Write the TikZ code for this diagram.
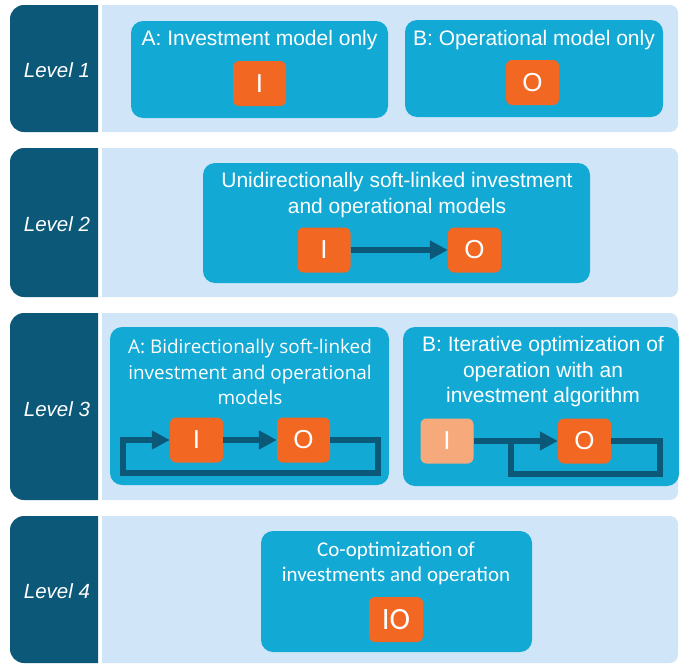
\documentclass[tikz,border=0pt]{standalone}
\usepackage{fontspec}
\setmainfont{Liberation Sans}
\newfontfamily\calfont{Carlito}
\newfontfamily\segfont{Open Sans}
\usetikzlibrary{arrows.meta}

\definecolor{navy}{RGB}{11,88,120}
\definecolor{panel}{RGB}{208,230,248}
\definecolor{modelcyan}{RGB}{18,169,212}
\definecolor{unitorange}{RGB}{242,103,34}
\definecolor{unitpeach}{RGB}{246,169,123}

\tikzset{
  lvltext/.style={text=white,font=\fontsize{20.5}{24}\selectfont\itshape},
  modelbox/.style={fill=modelcyan,rounded corners=12pt,inner sep=0pt},
  title/.style={text=white,align=center,font=\fontsize{21}{26}\selectfont},
  unit/.style={fill=unitorange,rounded corners=6pt,minimum width=53pt,minimum height=45pt,
    inner sep=0pt,text=white,font=\fontsize{26}{26}\selectfont},
  flow/.style={draw=navy,line width=5.5pt,line join=miter},
  feed/.style={-{Triangle[length=18pt,width=18pt]}}
}

\begin{document}
\begin{tikzpicture}[x=1pt,y=-1pt]
    \useasboundingbox (0,0) rectangle (680,664);
    % level bands
    \fill[navy] (54,5) [rounded corners=14pt] -- (10,5) -- (10,132) -- (54,132) [sharp corners] -- (98,132) -- (98,5) -- cycle;
    \fill[panel] (102,5) -- (390,5) [rounded corners=8pt] -- (678,5) -- (678,132) -- (390,132) [sharp corners] -- (102,132) -- cycle;
    \fill[navy] (54,148) [rounded corners=14pt] -- (10,148) -- (10,297) -- (54,297) [sharp corners] -- (98,297) -- (98,148) -- cycle;
    \fill[panel] (102,148) -- (390,148) [rounded corners=8pt] -- (678,148) -- (678,297) -- (390,297) [sharp corners] -- (102,297) -- cycle;
    \fill[navy] (54,313) [rounded corners=14pt] -- (10,313) -- (10,500) -- (54,500) [sharp corners] -- (98,500) -- (98,313) -- cycle;
    \fill[panel] (102,313) -- (390,313) [rounded corners=8pt] -- (678,313) -- (678,500) -- (390,500) [sharp corners] -- (102,500) -- cycle;
    \fill[navy] (54,516) [rounded corners=14pt] -- (10,516) -- (10,663) -- (54,663) [sharp corners] -- (98,663) -- (98,516) -- cycle;
    \fill[panel] (102,516) -- (390,516) [rounded corners=8pt] -- (678,516) -- (678,663) -- (390,663) [sharp corners] -- (102,663) -- cycle;
    \node[lvltext] (lvl1) at (57,70) {Level 1};
    \node[lvltext] (lvl2) at (57,224) {Level 2};
    \node[lvltext] (lvl3) at (57,409) {Level 3};
    \node[lvltext] (lvl4) at (57,591) {Level 4};
    %
    % level 1
    \node[modelbox,minimum width=257pt,minimum height=97pt] (m1a) at (259.5,69.5) {};
    \node[modelbox,minimum width=258pt,minimum height=97pt] (m1b) at (534,68.5) {};
    \node[title] (t1a) at (259.5,40) {A: Investment model only};
    \node[title] (t1b) at (534,40) {B: Operational model only};
    \node[unit] (i1) at (259.5,83.5) {I};
    \node[unit] (o1) at (532.5,82.5) {O};
    %
    % level 2
    \node[modelbox,minimum width=387pt,minimum height=120pt] (m2) at (396.5,223) {};
    \node[title] (t2) at (397,195) {Unidirectionally soft-linked investment\\and operational models};
    \node[unit] (i2) at (324,250) {I};
    \node[unit] (o2) at (474.5,250) {O};
    \draw[flow,feed] (i2) -- (o2);
    %
    % level 3
    \node[modelbox,minimum width=279pt,minimum height=158pt] (m3a) at (249.5,406) {};
    \node[modelbox,minimum width=276pt,minimum height=159pt] (m3b) at (541,406.5) {};
    \node[title,font=\segfont\fontsize{18.9}{25.5}\selectfont] (t3a) at (250,372) {A: Bidirectionally soft-linked\\investment and operational\\models};
    \node[title,font=\fontsize{21}{25.5}\selectfont] (t3b) at (543,372) {B: Iterative optimization of\\operation with an\\investment algorithm};
    \node[unit] (i3a) at (196.5,440) {I};
    \node[unit] (o3a) at (303.5,440) {O};
    \draw[flow,feed] (i3a) -- (o3a);
    \coordinate (a3r) at (378,473);
    \coordinate (a3l) at (123,473);
    \draw[flow,feed] (o3a.east) -| (a3r) -- (a3l) |- (i3a.west);
    \node[unit,fill=unitpeach] (i3b) at (447,441) {I};
    \node[unit] (o3b) at (584.5,441) {O};
    \draw[flow,feed] (i3b) -- (o3b);
    \coordinate (b3r) at (660,474);
    \coordinate (b3l) at (511,474);
    \draw[flow] (o3b.east) -| (b3r) -- (b3l) -- (b3l |- i3b.east);
    %
    % level 4
    \node[modelbox,minimum width=271pt,minimum height=121pt] (m4) at (396.5,591.5) {};
    \node[title,font=\calfont\fontsize{21}{25}\selectfont] (t4) at (396,563) {Co-optimization of\\investments and operation};
    \node[unit,minimum width=54pt,font=\calfont\fontsize{31}{31}\selectfont] (io4) at (396,619.5) {IO};
\end{tikzpicture}
\end{document}
